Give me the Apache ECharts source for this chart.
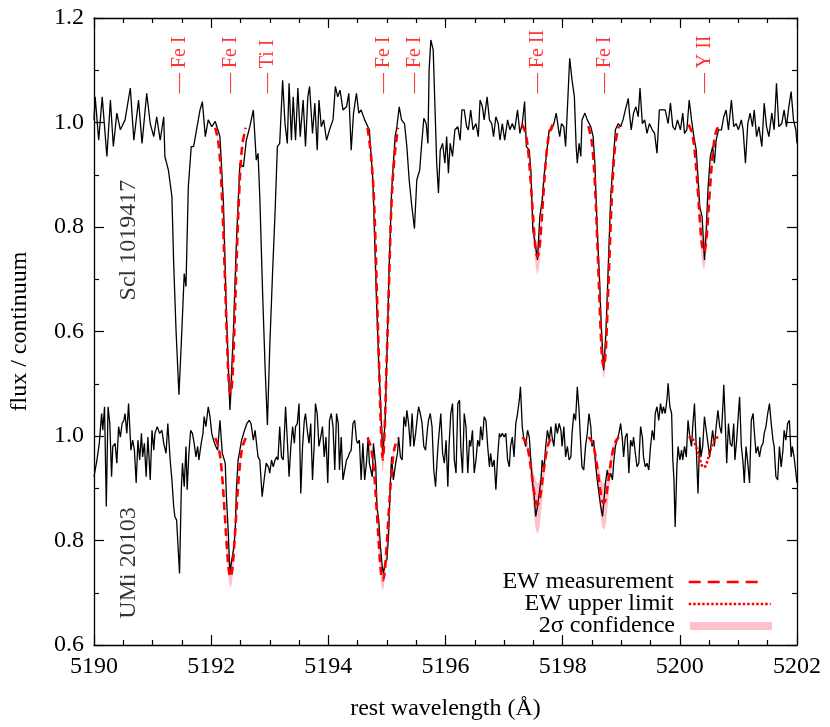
<!DOCTYPE html>
<html>
<head>
<meta charset="utf-8">
<script src="https://cdn.jsdelivr.net/npm/echarts@6/dist/echarts.min.js"></script>
<style>html,body{margin:0;padding:0;background:#fff}#c{width:830px;height:727px}</style>
</head>
<body>
<div id="c"></div>
<script>
// ---------------- data ----------------
const SCL_OFFSET = 0.6; // upper spectrum is shifted up by this amount

const SCL_WL = [5190.00,5190.02,5190.08,5190.14,5190.22,5190.28,5190.33,5190.39,5190.45,5190.53,5190.62,5190.68,5190.76,5190.82,5190.90,5190.96,5191.02,5191.07,5191.13,5191.19,5191.21,5191.27,5191.33,5191.36,5191.40,5191.45,5191.50,5191.54,5191.57,5191.61,5191.66,5191.70,5191.75,5191.81,5191.85,5191.90,5191.95,5192.01,5192.07,5192.15,5192.21,5192.26,5192.32,5192.38,5192.43,5192.49,5192.55,5192.60,5192.66,5192.72,5192.77,5192.80,5192.83,5192.88,5192.92,5192.96,5193.00,5193.05,5193.09,5193.13,5193.17,5193.22,5193.26,5193.30,5193.33,5193.37,5193.40,5193.44,5193.48,5193.52,5193.57,5193.61,5193.65,5193.68,5193.73,5193.77,5193.81,5193.84,5193.88,5193.92,5193.97,5194.02,5194.08,5194.12,5194.16,5194.20,5194.25,5194.31,5194.35,5194.39,5194.43,5194.48,5194.52,5194.56,5194.62,5194.70,5194.76,5194.82,5194.86,5194.90,5194.93,5194.97,5195.01,5195.04,5195.08,5195.14,5195.17,5195.21,5195.25,5195.30,5195.34,5195.38,5195.42,5195.47,5195.51,5195.56,5195.59,5195.63,5195.67,5195.70,5195.72,5195.75,5195.79,5195.82,5195.85,5195.88,5195.91,5195.95,5195.99,5196.02,5196.05,5196.08,5196.12,5196.16,5196.21,5196.25,5196.28,5196.32,5196.36,5196.39,5196.43,5196.47,5196.52,5196.56,5196.59,5196.63,5196.66,5196.71,5196.75,5196.79,5196.82,5196.86,5196.90,5196.93,5196.97,5197.01,5197.06,5197.10,5197.14,5197.18,5197.23,5197.27,5197.31,5197.35,5197.38,5197.43,5197.46,5197.49,5197.53,5197.57,5197.61,5197.65,5197.68,5197.72,5197.77,5197.81,5197.85,5197.89,5197.93,5197.95,5197.98,5198.02,5198.05,5198.09,5198.12,5198.16,5198.20,5198.23,5198.25,5198.28,5198.31,5198.33,5198.38,5198.42,5198.48,5198.52,5198.55,5198.59,5198.63,5198.66,5198.70,5198.74,5198.78,5198.82,5198.86,5198.90,5198.95,5198.99,5199.03,5199.07,5199.12,5199.14,5199.17,5199.21,5199.25,5199.29,5199.32,5199.36,5199.40,5199.44,5199.48,5199.53,5199.57,5199.61,5199.65,5199.70,5199.75,5199.80,5199.84,5199.88,5199.92,5199.96,5200.01,5200.05,5200.08,5200.12,5200.16,5200.20,5200.24,5200.28,5200.31,5200.34,5200.38,5200.42,5200.45,5200.48,5200.52,5200.56,5200.59,5200.62,5200.66,5200.71,5200.75,5200.79,5200.83,5200.88,5200.92,5200.96,5201.00,5201.05,5201.08,5201.12,5201.16,5201.20,5201.24,5201.27,5201.31,5201.35,5201.40,5201.44,5201.48,5201.52,5201.57,5201.61,5201.65,5201.69,5201.74,5201.78,5201.82,5201.86,5201.90,5201.94,5201.98,5202.00];
const SCL_FLUX = [1.005,1.049,0.966,1.049,0.935,1.043,0.954,1.018,0.986,1.005,1.066,0.966,1.043,0.960,1.056,0.998,0.973,1.011,0.966,1.011,0.935,0.909,0.858,0.730,0.603,0.479,0.603,0.711,0.686,0.877,0.954,0.954,0.986,1.024,1.040,0.973,1.005,0.992,1.002,0.973,0.845,0.635,0.450,0.603,0.769,0.922,0.915,0.966,0.992,1.024,0.928,0.941,0.858,0.667,0.533,0.421,0.571,0.718,0.826,0.954,0.960,1.081,0.998,0.960,1.075,0.966,1.049,0.966,1.066,0.973,1.043,0.954,1.049,1.069,0.979,1.037,0.947,1.043,0.992,1.005,0.966,0.986,1.005,1.069,1.049,1.062,1.024,1.030,1.056,0.947,1.018,1.056,1.018,1.024,1.005,0.986,0.890,0.667,0.539,0.444,0.362,0.430,0.600,0.730,0.870,0.973,0.992,1.030,1.005,0.998,0.954,0.890,0.845,0.797,0.890,0.909,0.954,1.008,0.998,0.960,1.100,1.158,1.139,1.030,0.922,0.865,0.947,0.960,0.922,0.973,0.903,0.960,0.935,0.986,0.992,0.966,1.024,1.024,0.992,0.986,1.024,0.986,0.998,0.973,1.043,1.030,1.005,1.049,1.005,0.998,0.973,1.011,0.998,0.966,0.998,0.966,1.005,0.986,0.998,0.986,1.024,0.979,0.998,1.040,0.954,0.947,0.903,0.794,0.769,0.737,0.820,0.852,0.896,0.935,0.986,0.986,0.998,1.018,0.986,0.973,0.998,0.992,0.954,1.049,1.123,1.081,1.049,0.954,0.922,0.960,0.935,1.005,1.018,1.005,0.992,0.973,0.922,0.794,0.699,0.609,0.526,0.603,0.730,0.858,0.922,0.986,0.998,0.992,1.005,1.024,1.046,1.018,0.986,1.018,1.030,1.011,1.066,0.998,1.005,0.979,0.998,0.986,0.979,0.941,1.024,1.024,1.024,0.998,1.037,0.992,0.986,1.005,0.986,1.018,0.979,0.986,1.043,1.005,0.973,0.947,0.896,0.839,0.820,0.737,0.794,0.871,0.935,0.954,0.922,0.966,0.986,0.986,1.011,1.024,0.986,1.043,0.992,0.998,0.986,1.005,0.986,0.922,0.998,1.018,0.992,1.024,0.973,0.992,0.954,1.037,0.992,0.973,1.018,0.986,1.075,0.992,0.998,1.024,0.992,1.030,1.059,1.005,0.986,0.960];

const UMI_WL = [5190.00,5190.05,5190.09,5190.13,5190.15,5190.18,5190.21,5190.24,5190.27,5190.30,5190.32,5190.36,5190.39,5190.42,5190.45,5190.48,5190.51,5190.53,5190.56,5190.59,5190.63,5190.66,5190.69,5190.72,5190.75,5190.78,5190.81,5190.83,5190.86,5190.89,5190.92,5190.96,5190.99,5191.02,5191.04,5191.08,5191.12,5191.16,5191.19,5191.23,5191.26,5191.30,5191.33,5191.36,5191.38,5191.41,5191.46,5191.49,5191.51,5191.54,5191.57,5191.59,5191.62,5191.65,5191.68,5191.71,5191.74,5191.77,5191.79,5191.83,5191.86,5191.88,5191.91,5191.95,5191.98,5192.01,5192.04,5192.08,5192.11,5192.15,5192.19,5192.24,5192.26,5192.29,5192.32,5192.35,5192.38,5192.41,5192.43,5192.46,5192.52,5192.57,5192.61,5192.65,5192.68,5192.72,5192.75,5192.78,5192.80,5192.83,5192.87,5192.91,5192.94,5192.98,5193.00,5193.03,5193.06,5193.09,5193.12,5193.14,5193.17,5193.20,5193.23,5193.27,5193.30,5193.33,5193.36,5193.39,5193.42,5193.44,5193.47,5193.50,5193.53,5193.56,5193.59,5193.61,5193.64,5193.67,5193.70,5193.73,5193.76,5193.78,5193.81,5193.84,5193.87,5193.90,5193.93,5193.96,5193.99,5194.02,5194.05,5194.08,5194.11,5194.14,5194.17,5194.19,5194.22,5194.25,5194.28,5194.31,5194.34,5194.36,5194.39,5194.42,5194.45,5194.48,5194.50,5194.53,5194.56,5194.59,5194.62,5194.65,5194.68,5194.70,5194.75,5194.77,5194.81,5194.83,5194.86,5194.89,5194.92,5194.94,5194.97,5195.00,5195.03,5195.06,5195.08,5195.11,5195.15,5195.18,5195.20,5195.23,5195.26,5195.29,5195.32,5195.34,5195.37,5195.40,5195.43,5195.46,5195.49,5195.52,5195.54,5195.57,5195.60,5195.63,5195.66,5195.69,5195.71,5195.74,5195.77,5195.80,5195.83,5195.86,5195.88,5195.92,5195.95,5195.98,5196.01,5196.04,5196.06,5196.09,5196.12,5196.15,5196.18,5196.21,5196.24,5196.26,5196.29,5196.32,5196.35,5196.38,5196.41,5196.43,5196.46,5196.49,5196.52,5196.55,5196.58,5196.60,5196.63,5196.66,5196.69,5196.72,5196.75,5196.77,5196.80,5196.83,5196.86,5196.89,5196.92,5196.94,5196.97,5197.00,5197.03,5197.06,5197.09,5197.11,5197.14,5197.17,5197.20,5197.23,5197.26,5197.28,5197.31,5197.34,5197.37,5197.40,5197.43,5197.46,5197.48,5197.51,5197.54,5197.57,5197.60,5197.63,5197.65,5197.68,5197.71,5197.74,5197.77,5197.80,5197.82,5197.85,5197.88,5197.91,5197.94,5197.97,5197.99,5198.02,5198.05,5198.08,5198.11,5198.14,5198.16,5198.19,5198.22,5198.25,5198.28,5198.31,5198.33,5198.36,5198.39,5198.42,5198.45,5198.48,5198.50,5198.53,5198.56,5198.59,5198.62,5198.65,5198.68,5198.70,5198.73,5198.76,5198.79,5198.82,5198.85,5198.87,5198.90,5198.93,5198.96,5198.99,5199.02,5199.04,5199.07,5199.10,5199.13,5199.16,5199.19,5199.21,5199.24,5199.27,5199.30,5199.33,5199.36,5199.38,5199.41,5199.44,5199.47,5199.50,5199.53,5199.56,5199.58,5199.61,5199.64,5199.67,5199.70,5199.72,5199.75,5199.78,5199.80,5199.83,5199.86,5199.88,5199.90,5199.92,5199.95,5199.97,5200.00,5200.03,5200.05,5200.08,5200.11,5200.14,5200.17,5200.20,5200.22,5200.25,5200.28,5200.31,5200.34,5200.36,5200.39,5200.42,5200.45,5200.48,5200.51,5200.54,5200.56,5200.59,5200.62,5200.65,5200.68,5200.71,5200.74,5200.75,5200.77,5200.80,5200.83,5200.86,5200.89,5200.92,5200.94,5200.97,5201.00,5201.02,5201.05,5201.08,5201.10,5201.13,5201.16,5201.19,5201.22,5201.25,5201.27,5201.30,5201.33,5201.36,5201.39,5201.42,5201.44,5201.47,5201.50,5201.53,5201.56,5201.59,5201.61,5201.64,5201.67,5201.70,5201.73,5201.76,5201.78,5201.81,5201.84,5201.87,5201.90,5201.92,5201.95,5202.00];
const UMI_FLUX = [0.922,0.954,0.986,1.043,1.011,1.056,0.865,1.056,1.024,0.922,0.980,0.986,0.948,1.018,0.998,1.024,1.030,1.043,1.005,1.062,0.973,0.992,0.973,0.910,0.992,0.954,1.005,0.960,0.986,0.922,0.998,0.916,1.011,0.973,1.005,1.018,1.005,1.011,0.986,0.967,1.024,0.954,0.916,0.865,0.846,0.839,0.737,0.897,0.948,0.903,0.980,0.897,0.967,1.011,1.005,0.986,0.960,0.980,0.954,0.986,1.005,1.037,1.018,1.056,1.037,1.005,0.992,0.980,0.973,1.030,0.967,0.948,0.884,0.820,0.737,0.762,0.782,0.814,0.897,0.954,0.992,1.011,1.024,1.030,1.024,0.992,1.011,0.980,0.960,0.954,0.884,0.922,0.948,0.940,0.929,0.954,0.941,0.954,0.960,0.954,1.018,0.960,0.954,1.056,0.992,0.922,0.980,1.018,0.986,1.018,1.024,1.062,0.890,0.980,1.030,1.043,1.011,0.986,1.024,0.916,0.986,1.062,1.043,0.980,0.998,1.018,0.960,0.998,0.910,1.030,1.043,1.018,0.935,1.043,1.024,0.935,0.998,0.916,0.935,0.954,0.960,0.967,0.973,1.024,1.030,0.992,0.986,0.992,0.916,0.986,0.916,0.948,0.998,0.948,0.922,0.986,0.941,0.865,0.839,0.788,0.750,0.737,0.756,0.763,0.814,0.916,0.960,0.916,0.948,0.967,0.998,0.960,0.954,1.037,1.018,1.049,1.024,0.980,1.043,0.980,1.005,1.037,1.056,1.043,1.024,0.980,0.973,1.011,1.030,1.043,1.018,0.935,0.903,0.960,0.992,1.043,0.967,0.948,0.992,0.903,0.980,1.043,1.062,0.954,0.929,1.062,1.069,0.980,0.929,1.043,1.018,0.929,0.992,0.980,1.011,0.929,0.954,0.992,0.980,1.018,0.992,1.037,1.030,0.980,0.941,0.967,0.941,0.954,0.897,0.960,1.005,0.998,1.005,0.998,1.005,0.954,0.941,0.980,0.998,0.960,1.024,1.043,1.069,1.094,1.018,0.992,0.980,1.011,0.998,0.948,0.916,0.890,0.846,0.865,0.890,0.916,0.954,0.935,0.980,1.011,0.992,1.018,0.998,0.980,1.024,1.005,1.024,1.011,0.980,1.018,0.960,0.980,0.954,0.960,1.005,1.043,1.030,1.094,1.049,0.980,0.941,0.935,0.980,1.005,1.043,1.018,0.980,0.992,0.948,0.916,0.890,0.865,0.846,0.871,0.910,0.935,0.916,0.929,0.916,0.948,0.980,0.980,1.005,1.024,0.992,0.960,0.998,1.005,0.929,0.992,0.980,0.998,0.967,0.941,0.948,1.018,0.998,0.960,0.941,0.948,0.935,0.980,1.011,0.992,1.043,1.056,1.030,1.062,1.043,1.056,1.043,1.069,1.101,1.056,1.043,0.954,0.916,0.826,0.941,0.980,0.954,0.973,0.954,0.980,0.960,1.030,0.998,0.980,1.018,1.062,0.980,0.890,0.998,0.960,0.980,1.037,1.011,0.986,0.960,0.992,1.011,0.980,1.018,1.049,1.018,1.005,1.069,1.098,1.043,0.948,1.024,0.986,0.980,1.024,0.954,0.992,1.043,1.075,0.980,0.948,0.910,0.980,0.948,0.910,1.030,1.043,1.011,0.967,0.980,0.960,0.980,0.986,1.005,1.018,1.043,1.062,1.024,0.992,0.980,0.922,0.916,0.980,0.941,0.973,1.011,0.992,1.024,1.030,0.960,0.980,0.960,0.910];

// line fits: offsets (Angstrom) from line centre, fitted model values, 2-sigma band
const MODEL_OFFSETS = [-0.26,-0.20,-0.15,-0.10,-0.06,-0.03,0,0.03,0.06,0.10,0.15,0.20,0.26];
const SCL_FIT_CENTERS = [5192.33, 5194.93, 5197.57, 5198.70, 5200.41];
const SCL_FIT_MODEL = [
  [0.990,0.956,0.870,0.720,0.584,0.506,0.480,0.506,0.584,0.720,0.870,0.956,0.990],
  [0.990,0.935,0.850,0.670,0.520,0.410,0.355,0.410,0.520,0.670,0.850,0.935,0.990],
  [0.996,0.978,0.936,0.861,0.794,0.756,0.743,0.756,0.794,0.861,0.936,0.978,0.996],
  [0.993,0.960,0.883,0.747,0.626,0.555,0.532,0.555,0.626,0.747,0.883,0.960,0.993],
  [0.996,0.979,0.938,0.866,0.800,0.764,0.752,0.764,0.800,0.866,0.938,0.979,0.996]
];
const SCL_BAND_LO = [
  [0.990,0.950,0.860,0.700,0.560,0.480,0.455,0.480,0.560,0.700,0.860,0.950,0.990],
  [0.990,0.930,0.830,0.640,0.490,0.380,0.330,0.380,0.490,0.640,0.830,0.930,0.990],
  [0.995,0.975,0.928,0.843,0.768,0.725,0.710,0.725,0.768,0.843,0.928,0.975,0.995],
  [0.993,0.958,0.878,0.736,0.608,0.534,0.510,0.534,0.608,0.736,0.878,0.958,0.993],
  [0.996,0.976,0.930,0.849,0.776,0.734,0.720,0.734,0.776,0.849,0.930,0.976,0.996]
];
const SCL_BAND_HI = [
  [0.995,0.960,0.880,0.740,0.610,0.530,0.505,0.530,0.610,0.740,0.880,0.960,0.995],
  [0.995,0.945,0.870,0.700,0.550,0.440,0.380,0.440,0.550,0.700,0.870,0.945,0.995],
  [0.997,0.980,0.943,0.876,0.816,0.781,0.770,0.781,0.816,0.876,0.943,0.980,0.997],
  [0.993,0.962,0.889,0.760,0.644,0.577,0.555,0.577,0.644,0.760,0.889,0.962,0.993],
  [0.997,0.981,0.945,0.881,0.824,0.791,0.780,0.791,0.824,0.881,0.945,0.981,0.997]
];
const UMI_FIT_CENTERS = [5192.33, 5194.93, 5197.57, 5198.70];
const UMI_FIT_MODEL = [
  [0.996,0.977,0.933,0.854,0.784,0.744,0.730,0.744,0.784,0.854,0.933,0.977,0.996],
  [0.996,0.977,0.931,0.851,0.779,0.738,0.724,0.738,0.779,0.851,0.931,0.977,0.996],
  [0.998,0.989,0.967,0.929,0.894,0.875,0.868,0.875,0.894,0.929,0.967,0.989,0.998],
  [0.998,0.989,0.968,0.931,0.898,0.878,0.872,0.878,0.898,0.931,0.968,0.989,0.998]
];
const UMI_BAND_LO = [
  [0.996,0.975,0.928,0.843,0.768,0.725,0.710,0.725,0.768,0.843,0.928,0.975,0.996],
  [0.996,0.975,0.926,0.841,0.764,0.720,0.705,0.720,0.764,0.841,0.926,0.975,0.996],
  [0.997,0.984,0.954,0.900,0.851,0.823,0.814,0.823,0.851,0.900,0.954,0.984,0.997],
  [0.997,0.985,0.955,0.903,0.856,0.829,0.820,0.829,0.856,0.903,0.955,0.985,0.997]
];
const UMI_BAND_HI = [
  [0.996,0.980,0.940,0.870,0.810,0.772,0.760,0.772,0.810,0.870,0.940,0.980,0.996],
  [0.996,0.979,0.938,0.865,0.800,0.763,0.750,0.763,0.800,0.865,0.938,0.979,0.996],
  [0.999,0.992,0.978,0.951,0.928,0.915,0.910,0.915,0.928,0.951,0.978,0.992,0.999],
  [0.999,0.992,0.978,0.951,0.928,0.915,0.910,0.915,0.928,0.951,0.978,0.992,0.999]
];
const UMI_LIMIT_CENTER = 5200.41;
const UMI_LIMIT_MODEL = [0.999,0.995,0.985,0.968,0.952,0.943,0.940,0.943,0.952,0.968,0.985,0.995,0.999];

// line identifications at the top
const LINE_IDS = ['Fe I','Fe I','Ti I','Fe I','Fe I','Fe II','Fe I','Y II'];
const LINE_ID_WL = [5191.46, 5192.33, 5192.97, 5194.94, 5195.47, 5197.58, 5198.71, 5200.42];
const LINE_ID_Y = 1.656;

// star labels
const STAR_NAMES = ['Scl 1019417', 'UMi 20103'];
const STAR_LABEL_WL = [5190.6, 5190.6];
const STAR_LABEL_Y = [1.375, 0.757];

// axis
const X_MIN = 5190, X_MAX = 5202, X_STEP = 2;
const Y_MIN = 0.6, Y_MAX = 1.8, Y_STEP = 0.2;

// ---------------- chart ----------------
const SERIF = 'Liberation Serif, Times New Roman, DejaVu Serif, serif';
const RED = '#ff0000', PINK = '#ffc0cb';

function modelSeries(center, vals, off, name, dash) {
  return {
    type: 'line', name: name, symbol: 'none', smooth: 0.35, z: 5,
    data: MODEL_OFFSETS.map((d, i) => [center + d, vals[i] + off]),
    lineStyle: { color: RED, width: 2.6, type: dash },
    itemStyle: { color: RED }
  };
}
function bandSeries(center, lo, hi, off) {
  const pts = MODEL_OFFSETS.map((d, i) => [center + d, lo[i] + off, hi[i] + off]);
  return {
    type: 'custom', name: '2\u03c3 confidence', z: 1,
    itemStyle: { color: PINK },
    encode: { x: 0, y: [1, 2] },
    data: pts,
    renderItem: function (params, api) {
      if (params.dataIndex !== 0) return null;
      const top = pts.map(p => api.coord([p[0], p[2]]));
      const bot = pts.slice().reverse().map(p => api.coord([p[0], p[1]]));
      return { type: 'polygon', shape: { points: top.concat(bot), smooth: 0.3 }, style: { fill: PINK } };
    }
  };
}

const series = [];
SCL_FIT_CENTERS.forEach((c, k) => series.push(bandSeries(c, SCL_BAND_LO[k], SCL_BAND_HI[k], SCL_OFFSET)));
UMI_FIT_CENTERS.forEach((c, k) => series.push(bandSeries(c, UMI_BAND_LO[k], UMI_BAND_HI[k], 0)));
series.push({
  type: 'line', name: 'Scl 1019417', symbol: 'none', z: 3,
  data: SCL_WL.map((w, i) => [w, SCL_FLUX[i] + SCL_OFFSET]),
  lineStyle: { color: '#000', width: 1.3 }
});
series.push({
  type: 'line', name: 'UMi 20103', symbol: 'none', z: 3,
  data: UMI_WL.map((w, i) => [w, UMI_FLUX[i]]),
  lineStyle: { color: '#000', width: 1.3 }
});
SCL_FIT_CENTERS.forEach((c, k) => series.push(modelSeries(c, SCL_FIT_MODEL[k], SCL_OFFSET, 'EW measurement', [8, 5])));
UMI_FIT_CENTERS.forEach((c, k) => series.push(modelSeries(c, UMI_FIT_MODEL[k], 0, 'EW measurement', [8, 5])));
series.push(modelSeries(UMI_LIMIT_CENTER, UMI_LIMIT_MODEL, 0, 'EW upper limit', [2.5, 2]));

// line identification labels
series.push({
  type: 'scatter', symbolSize: 0, z: 6, silent: true,
  data: LINE_ID_WL.map((w, i) => [w, LINE_ID_Y]),
  label: {
    show: true, position: 'inside', rotate: 90, align: 'left', verticalAlign: 'middle',
    formatter: p => '\u2014 ' + LINE_IDS[p.dataIndex],
    color: RED, fontSize: 20, fontFamily: SERIF
  }
});
// star labels
series.push({
  type: 'scatter', symbolSize: 0, z: 6, silent: true,
  data: STAR_LABEL_WL.map((w, i) => [w, STAR_LABEL_Y[i]]),
  label: {
    show: true, position: 'inside', rotate: 90, align: 'center', verticalAlign: 'middle',
    formatter: p => STAR_NAMES[p.dataIndex],
    color: '#000', fontSize: 24, fontFamily: SERIF
  }
});

const axisLine = { show: true, lineStyle: { color: '#000', width: 1.3 } };
const tick = { show: true, inside: true, length: 10, lineStyle: { color: '#000', width: 1.2 } };
const minor = (n) => ({ show: true, splitNumber: n, length: 5, lineStyle: { color: '#000', width: 1.2 } });
const labelFont = { color: '#000', fontSize: 24, fontFamily: SERIF };

const legendText = { color: '#000', fontSize: 24, fontFamily: SERIF, padding: [0, 10, 0, 0] };
const hideSymbol = { opacity: 0, borderWidth: 0 };

const option = {
  animation: false,
  backgroundColor: '#fff',
  grid: { left: 92, right: 33, top: 18, bottom: 82 },
  legend: [
    { data: ['EW measurement'], right: 62, top: 565, align: 'right', orient: 'vertical', itemWidth: 73, itemHeight: 14,
      textStyle: legendText, selectedMode: false, itemStyle: hideSymbol, lineStyle: { width: 2.6, type: [12, 7] } },
    { data: ['EW upper limit'], right: 53, top: 587, align: 'right', orient: 'vertical', itemWidth: 82, itemHeight: 14,
      textStyle: legendText, selectedMode: false, itemStyle: hideSymbol, lineStyle: { width: 2.6, type: [2.5, 2] } },
    { data: ['2\u03c3 confidence'], right: 53, top: 609, align: 'right', orient: 'vertical', itemWidth: 82, itemHeight: 8,
      icon: 'rect', textStyle: legendText, selectedMode: false }
  ],
  xAxis: [
    { type: 'value', min: X_MIN, max: X_MAX, interval: X_STEP, position: 'bottom',
      axisLine: axisLine, axisTick: tick, minorTick: minor(4), splitLine: { show: false },
      axisLabel: Object.assign({ margin: 10, formatter: v => v.toFixed(0) }, labelFont),
      name: 'rest wavelength (\u00c5)', nameLocation: 'middle', nameGap: 52,
      nameTextStyle: { color: '#000', fontSize: 24, fontFamily: SERIF } },
    { type: 'value', min: X_MIN, max: X_MAX, interval: X_STEP, position: 'top',
      axisLine: axisLine, axisTick: tick, minorTick: minor(4), splitLine: { show: false },
      axisLabel: { show: false } }
  ],
  yAxis: [
    { type: 'value', min: Y_MIN, max: Y_MAX, interval: Y_STEP, position: 'left',
      axisLine: axisLine, axisTick: tick, minorTick: minor(2), splitLine: { show: false },
      axisLabel: Object.assign({ margin: 10,
        formatter: v => (v > 1.0001 ? v - SCL_OFFSET : v).toFixed(1) }, labelFont),
      name: 'flux / continuum', nameLocation: 'middle', nameGap: 62, nameRotate: 90,
      nameTextStyle: { color: '#000', fontSize: 24, fontFamily: SERIF } },
    { type: 'value', min: Y_MIN, max: Y_MAX, interval: Y_STEP, position: 'right',
      axisLine: axisLine, axisTick: tick, minorTick: minor(2), splitLine: { show: false },
      axisLabel: { show: false } }
  ],
  series: series
};

const chart = echarts.init(document.getElementById('c'), null, { renderer: 'canvas' });
chart.setOption(option);
</script>
</body>
</html>
